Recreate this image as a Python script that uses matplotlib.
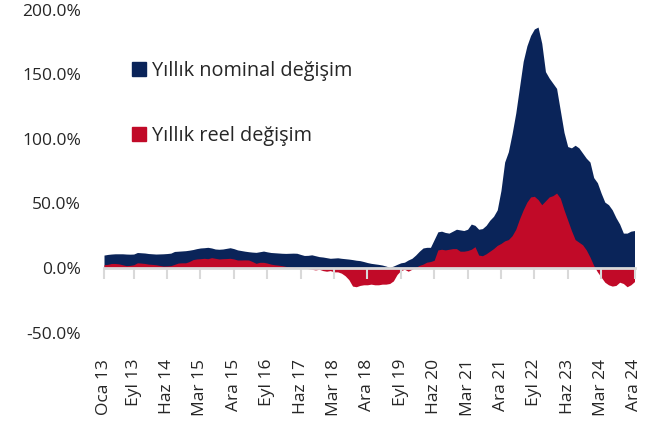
"""Yıllık nominal ve reel değişim"""
import matplotlib.pyplot as plt
from matplotlib.patches import Patch
import numpy as np

plt.rcParams['font.family'] = ['Open Sans', 'DejaVu Sans']

# data (monthly, Oca 13 - Ara 24)
aylar = ['Oca', 'Şub', 'Mar', 'Nis', 'May', 'Haz', 'Tem', 'Ağu', 'Eyl', 'Eki', 'Kas', 'Ara']
yillar = list(range(2013, 2025))
donem = [f'{a} {y % 100:02d}' for y in yillar for a in aylar]

nominal = [10.0, 10.5, 10.8, 11.0, 11.0, 11.0, 10.8, 10.7, 10.8, 12.0,
           11.8, 11.6, 11.2, 11.0, 10.8, 10.9, 11.0, 11.2, 11.5, 12.8,
           13.0, 13.2, 13.4, 13.8, 14.3, 15.0, 15.5, 15.7, 16.0, 15.5,
           14.7, 14.5, 14.7, 15.2, 15.7, 15.0, 14.0, 13.5, 13.0, 12.6,
           12.3, 12.1, 12.6, 13.1, 12.5, 12.0, 11.8, 11.6, 11.4, 11.3,
           11.4, 11.5, 11.4, 10.5, 9.7, 9.8, 10.2, 9.5, 8.8, 8.5,
           8.0, 7.5, 7.7, 7.9, 7.5, 7.2, 6.9, 6.5, 6.0, 5.7,
           5.0, 4.2, 3.6, 3.2, 2.8, 2.3, 1.5, 0.5, 1.5, 2.8,
           4.0, 4.5, 6.2, 7.5, 10.0, 13.0, 15.5, 16.0, 16.0, 22.0,
           28.0, 28.5, 27.5, 27.0, 28.5, 30.0, 29.5, 29.0, 30.0, 34.0,
           33.0, 30.0, 30.5, 33.0, 37.0, 40.0, 45.0, 60.0, 82.0, 90.0,
           104.0, 120.0, 140.0, 160.0, 172.0, 180.0, 185.0, 186.5, 174.0, 152.0,
           147.0, 143.0, 139.0, 122.0, 105.0, 94.0, 93.0, 95.0, 93.0, 89.0,
           85.0, 82.0, 70.0, 66.0, 58.0, 51.0, 49.0, 45.0, 39.0, 34.0,
           27.0, 27.0, 28.5, 29.0]

reel = [2.5, 2.8, 3.5, 3.5, 3.2, 2.5, 1.8, 2.0, 2.5, 4.0,
        3.8, 3.5, 3.0, 2.8, 2.5, 2.0, 1.5, 1.6, 1.8, 2.8,
        3.8, 4.0, 4.0, 5.0, 6.5, 7.0, 7.2, 7.5, 7.2, 8.0,
        7.5, 7.0, 7.2, 7.3, 7.5, 7.0, 6.2, 6.2, 6.3, 6.2,
        5.0, 3.6, 4.4, 4.4, 3.8, 3.0, 2.5, 2.2, 1.8, 1.2,
        0.8, 0.5, 0.3, 0.2, 0.0, -0.5, -1.0, -1.5, -1.0, -2.0,
        -2.5, -2.0, -3.0, -3.0, -4.0, -6.0, -9.0, -14.0, -14.5, -13.5,
        -13.0, -13.0, -12.5, -13.0, -13.0, -12.5, -12.5, -12.0, -10.0, -5.0,
        -2.0, -1.0, -2.5, -1.0, 0.5, 2.0, 3.0, 4.5, 5.0, 6.0,
        14.0, 14.5, 14.0, 14.5, 15.0, 15.0, 13.0, 13.0, 13.5, 14.5,
        16.5, 10.0, 9.5, 11.0, 13.0, 15.0, 17.5, 19.0, 21.0, 22.0,
        25.0, 30.0, 38.0, 45.0, 51.0, 55.0, 55.5, 53.0, 49.0, 52.0,
        55.0, 56.0, 58.0, 54.0, 45.0, 37.0, 29.0, 22.0, 20.0, 18.0,
        14.0, 8.5, 2.0, -3.0, -7.0, -11.0, -13.0, -14.0, -13.5, -11.0,
        -12.0, -14.5, -13.0, -10.5]

seriler = ['Yıllık nominal değişim', 'Yıllık reel değişim']
y_ticks = [-50, 0, 50, 100, 150, 200]

navy = '#0a2459'
red = '#c10a28'
grey = '#d9d9d9'
txt = '#262626'

fig = plt.figure(figsize=(6.66, 4.22), dpi=100)
ax = fig.add_axes([104 / 666, 1 - 332.6 / 422, 530.5 / 666, 323 / 422])

x = np.arange(len(donem))
ax.fill_between(x, 0, nominal, color=navy, lw=0)
ax.fill_between(x, 0, reel, color=red, lw=0)

ax.set_xlim(0, len(donem) - 1)
ax.set_ylim(-50, 200)

# axis line at zero, ticks on it
for s in ['left', 'right', 'top']:
    ax.spines[s].set_visible(False)
ax.spines['bottom'].set_position(('data', 0))
ax.spines['bottom'].set_color(grey)
ax.spines['bottom'].set_linewidth(2)

tick_idx = [0] + list(range(8, len(donem), 9))
ax.set_xticks(tick_idx)
ax.tick_params(axis='x', direction='out', length=8, width=1.5, color=grey, labelbottom=False)

ax.set_yticks(y_ticks)
ax.set_yticklabels([f'{v:.1f}%' for v in y_ticks])
ax.tick_params(axis='y', length=0, pad=16.5, labelsize=12.5, labelcolor=txt)

# category labels at the bottom of the plot
sec = ax.secondary_xaxis(0)
sec.set_xticks(tick_idx)
sec.set_xticklabels([donem[i] for i in tick_idx], rotation=90)
sec.tick_params(length=0, pad=19, labelsize=12.5, labelcolor=txt)
for s in sec.spines.values():
    s.set_visible(False)

handles = [Patch(color=navy), Patch(color=red)]
ax.legend(handles, seriler, loc='upper left', bbox_to_anchor=(132 / 666, 1 - 61 / 422),
          bbox_transform=fig.transFigure, frameon=False, fontsize=14.3,
          handlelength=0.7, handleheight=0.7, handletextpad=0.3, labelspacing=2.25,
          borderpad=0, borderaxespad=0, labelcolor=txt)

fig.savefig('out.png', dpi=100)
